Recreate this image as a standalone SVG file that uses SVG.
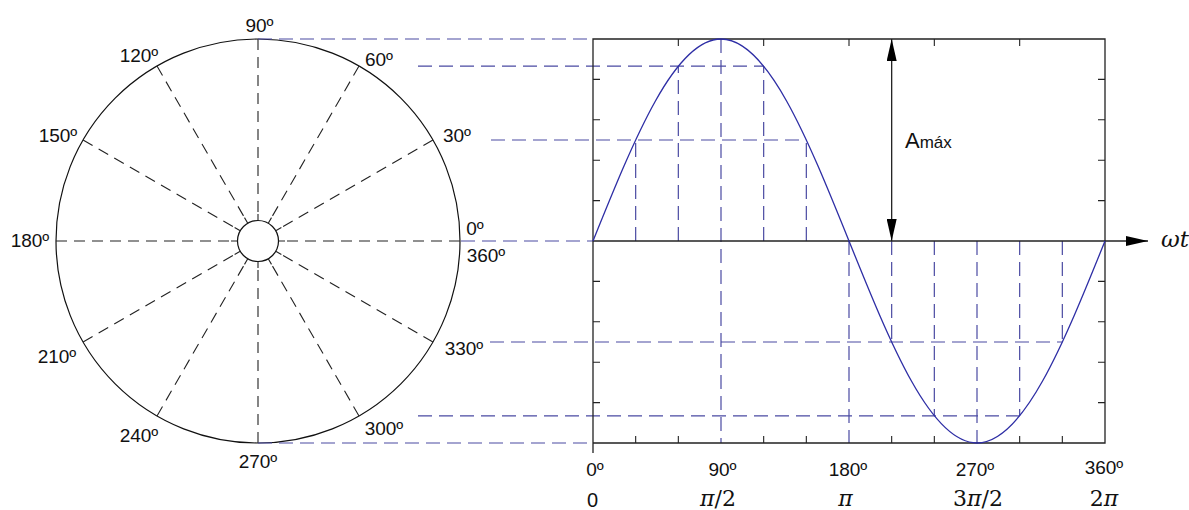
<svg xmlns="http://www.w3.org/2000/svg" width="1189" height="510" viewBox="0 0 1189 510">
<style>
.lbl{font-family:"Liberation Sans",Arial,sans-serif;font-size:19px;fill:#111;text-anchor:middle}
.rad{stroke:#222;stroke-width:1.1;stroke-dasharray:11 7;fill:none}
.tick{stroke:#222;stroke-width:1.1;fill:none}
.frame{stroke:#222;stroke-width:1.3;fill:none}
.proj{stroke:#4a4aa2;stroke-width:1.2;stroke-dasharray:14 7;fill:none}
.math{font-family:"DejaVu Serif","Liberation Serif",serif;font-size:22px;fill:#111;text-anchor:middle}
</style>
<defs>
<marker id="arr" viewBox="0 0 22 10" refX="22" refY="5" markerWidth="22" markerHeight="10" markerUnits="userSpaceOnUse" orient="auto-start-reverse">
<path d="M0,0 L22,5 L0,10 Z" fill="#000"/>
</marker>
</defs>
<rect width="1189" height="510" fill="#fff"/>

<g id="polar">
<circle cx="258" cy="241" r="202" fill="none" stroke="#111" stroke-width="1.2"/>
<circle cx="258" cy="241" r="20.5" fill="none" stroke="#111" stroke-width="1.2"/>
<g id="radials">
<line class="rad" x1="460" y1="241" x2="285" y2="241"/>
<line class="rad" x1="432.94" y1="140" x2="281.38" y2="227.5"/>
<line class="rad" x1="359" y1="66.06" x2="271.5" y2="217.62"/>
<line class="rad" x1="258" y1="39" x2="258" y2="214"/>
<line class="rad" x1="157" y1="66.06" x2="244.5" y2="217.62"/>
<line class="rad" x1="83.06" y1="140" x2="234.62" y2="227.5"/>
<line class="rad" x1="56" y1="241" x2="231" y2="241"/>
<line class="rad" x1="83.06" y1="342" x2="234.62" y2="254.5"/>
<line class="rad" x1="157" y1="415.94" x2="244.5" y2="264.38"/>
<line class="rad" x1="258" y1="443" x2="258" y2="268"/>
<line class="rad" x1="359" y1="415.94" x2="271.5" y2="264.38"/>
<line class="rad" x1="432.94" y1="342" x2="281.38" y2="254.5"/>
</g>
<g id="inner-ticks">
<path class="tick" d="M278.5,241 L285,241 M275.75,230.75 L281.38,227.5 M268.25,223.25 L271.5,217.62 M258,220.5 L258,214 M247.75,223.25 L244.5,217.62 M240.25,230.75 L234.62,227.5 M237.5,241 L231,241 M240.25,251.25 L234.62,254.5 M247.75,258.75 L244.5,264.38 M258,261.5 L258,268 M268.25,258.75 L271.5,264.38 M275.75,251.25 L281.38,254.5"/>
</g>
<g id="polar-labels">
<text class="lbl" x="259.5" y="32">90º</text>
<text class="lbl" x="139" y="62">120º</text>
<text class="lbl" x="379" y="66">60º</text>
<text class="lbl" x="58" y="142">150º</text>
<text class="lbl" x="457" y="142">30º</text>
<text class="lbl" x="475" y="235">0º</text>
<text class="lbl" x="30" y="247">180º</text>
<text class="lbl" x="486" y="262">360º</text>
<text class="lbl" x="57" y="363">210º</text>
<text class="lbl" x="464" y="355">330º</text>
<text class="lbl" x="139" y="442">240º</text>
<text class="lbl" x="384" y="435">300º</text>
<text class="lbl" x="258" y="468">270º</text>
</g>
</g>

<g id="connectors">
<line class="proj" x1="258" y1="39" x2="593" y2="39"/>
<line class="proj" x1="418" y1="66.06" x2="763.67" y2="66.06"/>
<line class="proj" x1="491" y1="140" x2="806.33" y2="140"/>
<line class="proj" x1="461" y1="241" x2="593" y2="241"/>
<line class="proj" x1="490" y1="342" x2="1062.33" y2="342"/>
<line class="proj" x1="418" y1="415.94" x2="1019.67" y2="415.94"/>
<line class="proj" x1="258" y1="443" x2="593" y2="443"/>
<line class="proj" x1="635.67" y1="241" x2="635.67" y2="140"/>
<line class="proj" x1="678.33" y1="241" x2="678.33" y2="66.06"/>
<line class="proj" x1="721" y1="39" x2="721" y2="443"/>
<line class="proj" x1="763.67" y1="241" x2="763.67" y2="66.06"/>
<line class="proj" x1="806.33" y1="241" x2="806.33" y2="140"/>
<line class="proj" x1="849" y1="241" x2="849" y2="443"/>
<line class="proj" x1="891.67" y1="241" x2="891.67" y2="342"/>
<line class="proj" x1="934.33" y1="241" x2="934.33" y2="415.94"/>
<line class="proj" x1="977" y1="241" x2="977" y2="443"/>
<line class="proj" x1="1019.67" y1="241" x2="1019.67" y2="415.94"/>
<line class="proj" x1="1062.33" y1="241" x2="1062.33" y2="342"/>
</g>

<g id="plot">
<path class="frame" d="M593,453 L593,39 L1105,39 L1105,443 L593,443"/>
<path class="tick" d="M593,79.4 h7 M593,119.8 h7 M593,160.2 h7 M593,200.6 h7 M593,281.4 h7 M593,321.8 h7 M593,362.2 h7 M593,402.6 h7 M1105,79.4 h-7 M1105,119.8 h-7 M1105,160.2 h-7 M1105,200.6 h-7 M1105,281.4 h-7 M1105,321.8 h-7 M1105,362.2 h-7 M1105,402.6 h-7 M678.33,39 v7 M763.67,39 v7 M849,39 v7 M934.33,39 v7 M1019.67,39 v7 M635.67,443 v-7 M678.33,443 v-7 M763.67,443 v-7 M806.33,443 v-7 M891.67,443 v-7 M934.33,443 v-7 M1019.67,443 v-7 M1062.33,443 v-7"/>
<line id="axis" x1="593" y1="241" x2="1148" y2="241" stroke="#222" stroke-width="1.3" marker-end="url(#arr)"/>
<path id="sine" d="M593,241 C634.75,137.52 674.68,39 721,39 C767.32,39 807.25,137.52 849,241 C890.75,344.48 930.68,443 977,443 C1023.32,443 1063.25,344.48 1105,241" fill="none" stroke="#2e2ea5" stroke-width="1.3"/>
<line id="amax-arrow" x1="891.67" y1="39" x2="891.67" y2="241" stroke="#222" stroke-width="1.3" marker-start="url(#arr)" marker-end="url(#arr)"/>
<text x="905" y="148" font-family="Liberation Sans,Arial,sans-serif" font-size="22" fill="#111">A<tspan font-size="17">máx</tspan></text>
<text x="1161" y="247" font-family="DejaVu Serif,Liberation Serif,serif" font-style="italic" font-size="23" fill="#111">ωt</text>
<g id="x-labels">
<text class="lbl" x="595" y="476">0º</text>
<text class="lbl" x="722.5" y="476">90º</text>
<text class="lbl" x="848" y="476">180º</text>
<text class="lbl" x="975" y="476">270º</text>
<text class="lbl" x="1104" y="474">360º</text>
<text x="592.5" y="507" font-family="Liberation Sans,Arial,sans-serif" font-size="20" fill="#111" text-anchor="middle">0</text>
<text class="math" x="718" y="506"><tspan font-style="italic">π</tspan>/2</text>
<text class="math" x="845.5" y="506"><tspan font-style="italic">π</tspan></text>
<text class="math" x="978" y="506">3<tspan font-style="italic">π</tspan>/2</text>
<text class="math" x="1104" y="506">2<tspan font-style="italic">π</tspan></text>
</g>
</g>
</svg>
